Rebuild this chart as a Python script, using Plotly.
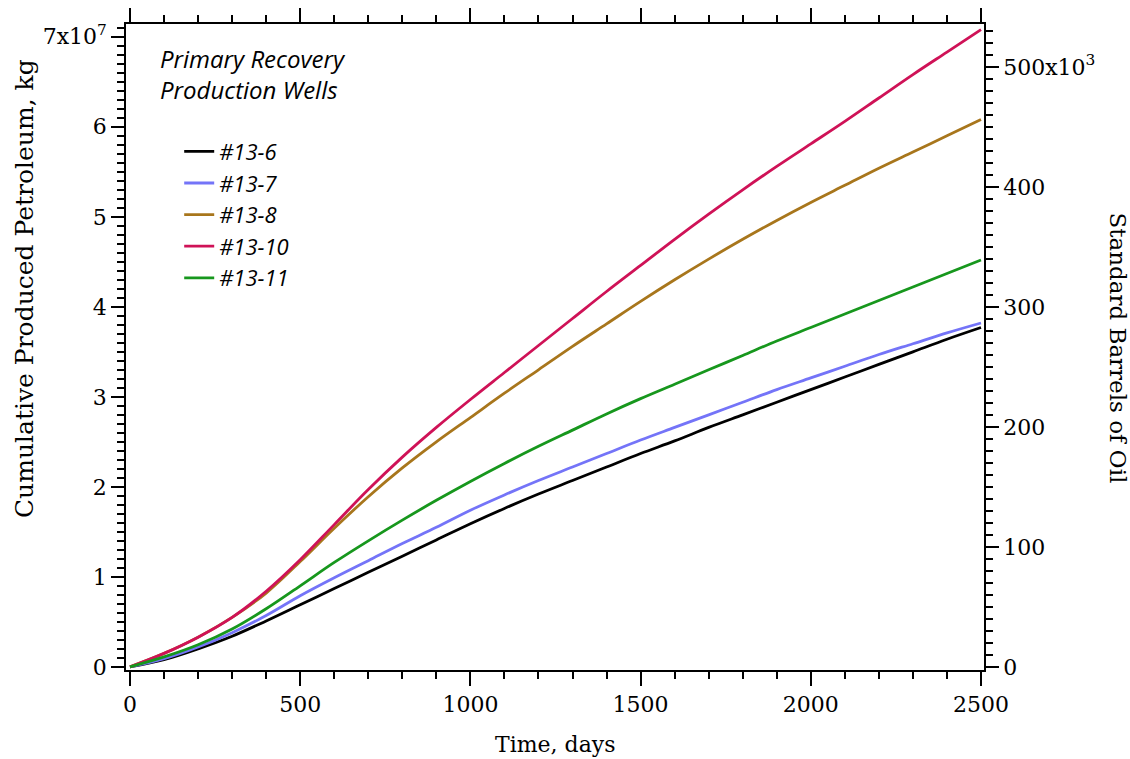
import plotly.graph_objects as go

# ---------------- data ----------------
days = [0, 100, 200, 300, 400, 500, 600, 700, 800, 900, 1000, 1100, 1200,
        1300, 1400, 1500, 1600, 1700, 1800, 1900, 2000, 2100, 2200, 2300, 2400, 2500]

# cumulative produced petroleum, units of 1e7 kg
well_13_6 = [0, 0.08, 0.20, 0.34, 0.51, 0.69, 0.87, 1.05, 1.23, 1.41, 1.59, 1.76, 1.92,
             2.07, 2.22, 2.37, 2.51, 2.66, 2.80, 2.94, 3.08, 3.22, 3.36, 3.50, 3.64, 3.77]
well_13_7 = [0, 0.09, 0.22, 0.38, 0.57, 0.79, 0.99, 1.18, 1.37, 1.55, 1.74, 1.91, 2.07,
             2.22, 2.37, 2.52, 2.66, 2.80, 2.94, 3.08, 3.21, 3.34, 3.47, 3.59, 3.71, 3.82]
well_13_8 = [0, 0.15, 0.33, 0.55, 0.82, 1.17, 1.54, 1.89, 2.21, 2.50, 2.77, 3.04, 3.30,
             3.56, 3.81, 4.06, 4.30, 4.53, 4.75, 4.96, 5.16, 5.35, 5.54, 5.72, 5.90, 6.08]
well_13_10 = [0, 0.15, 0.33, 0.55, 0.84, 1.19, 1.58, 1.97, 2.33, 2.66, 2.97, 3.27, 3.57,
              3.87, 4.17, 4.46, 4.75, 5.03, 5.30, 5.56, 5.81, 6.06, 6.32, 6.58, 6.83, 7.08]
well_13_11 = [0, 0.11, 0.245, 0.42, 0.645, 0.90, 1.16, 1.40, 1.63, 1.85, 2.06, 2.26, 2.45,
              2.63, 2.81, 2.98, 3.14, 3.30, 3.46, 3.62, 3.77, 3.92, 4.07, 4.22, 4.37, 4.52]

series_names = ["#13-6", "#13-7", "#13-8", "#13-10", "#13-11"]
series_values = [well_13_6, well_13_7, well_13_8, well_13_10, well_13_11]
series_colors = ["#000000", "#7474f8", "#a8761c", "#cf1257", "#17971d"]

KG_SCALE = 1e7
KG_PER_BBL = 133.33

y_ticks_kg = [0, 1, 2, 3, 4, 5, 6, 7]
y_ticktext_kg = ["0", "1", "2", "3", "4", "5", "6", "7x10<sup>7</sup>"]
y_ticks_bbl = [0, 100, 200, 300, 400, 500]
y_ticktext_bbl = ["0", "100", "200", "300", "400", "500x10<sup>3</sup>"]
x_ticks = [0, 500, 1000, 1500, 2000, 2500]

# ---------------- figure ----------------
fig = go.Figure()
for name, vals, col in zip(series_names, series_values, series_colors):
    fig.add_trace(go.Scatter(
        x=days, y=[v * KG_SCALE for v in vals], name=name, mode="lines",
        line=dict(color=col, width=2.8, shape="spline", smoothing=1.0),
    ))

# same data expressed in barrels, invisible, only to carry the right-hand axis
fig.add_trace(go.Scatter(
    x=days, y=[v * KG_SCALE / KG_PER_BBL for v in well_13_10], yaxis="y2",
    mode="lines", line=dict(width=0), opacity=0, showlegend=False, hoverinfo="skip",
))

y_range = [-0.035 * KG_SCALE, 7.142 * KG_SCALE]
y2_range = [y_range[0] / KG_PER_BBL, y_range[1] / KG_PER_BBL]

tick_font = dict(family="DejaVu Serif", size=22, color="black")
minor_common = dict(ticks="outside", ticklen=7, tickcolor="black", tickwidth=1.5)
axis_common = dict(showline=True, linecolor="black", linewidth=1.5,
                   ticks="outside", tickcolor="black", tickwidth=1.5,
                   showgrid=False, zeroline=False, tickfont=tick_font, automargin=False)

fig.update_layout(
    width=1130, height=759,
    margin=dict(l=126, r=146, t=24, b=89),
    paper_bgcolor="white", plot_bgcolor="white",
    showlegend=True,
    legend=dict(x=0.062, y=0.835, xanchor="left", yanchor="top",
                bgcolor="rgba(0,0,0,0)", borderwidth=0,
                font=dict(family="Open Sans", size=22, color="black", style="italic"),
                tracegroupgap=0),
    xaxis=dict(range=[-11.75, 2508.8], tickvals=x_ticks, ticklen=14, mirror="ticks",
               minor=dict(dtick=100, **minor_common), **axis_common),
    yaxis=dict(range=y_range, tickvals=[v * KG_SCALE for v in y_ticks_kg],
               ticktext=y_ticktext_kg, ticklen=13,
               minor=dict(dtick=0.1 * KG_SCALE, **minor_common), **axis_common),
    yaxis2=dict(range=y2_range, overlaying="y", side="right", anchor="x",
                tickvals=[v * 1e3 for v in y_ticks_bbl], ticktext=y_ticktext_bbl, ticklen=13,
                minor=dict(dtick=10e3, **minor_common), **axis_common),
)

fig.add_annotation(text="Time, days", xref="paper", yref="paper", x=0.5, y=-0.116,
                   xanchor="center", yanchor="middle", showarrow=False,
                   font=dict(family="DejaVu Serif", size=22, color="black"))
fig.add_annotation(text="Cumulative Produced Petroleum, kg", xref="paper", yref="paper",
                   x=-0.1189, y=0.5913, textangle=-90, xanchor="center", yanchor="middle",
                   showarrow=False, font=dict(family="DejaVu Serif", size=25, color="black"))
fig.add_annotation(text="Standard Barrels of Oil", xref="paper", yref="paper",
                   x=1.1562, y=0.4992, textangle=90, xanchor="center", yanchor="middle",
                   showarrow=False, font=dict(family="DejaVu Serif", size=23, color="black"))
fig.add_annotation(text="Primary Recovery<br>Production Wells", xref="paper", yref="paper",
                   x=0.037, y=0.975, xanchor="left", yanchor="top", align="left",
                   showarrow=False,
                   font=dict(family="Open Sans", size=24, color="black", style="italic"))

fig.write_html("out.html", config={"displayModeBar": False},
               post_script="document.body.style.margin='0';")
